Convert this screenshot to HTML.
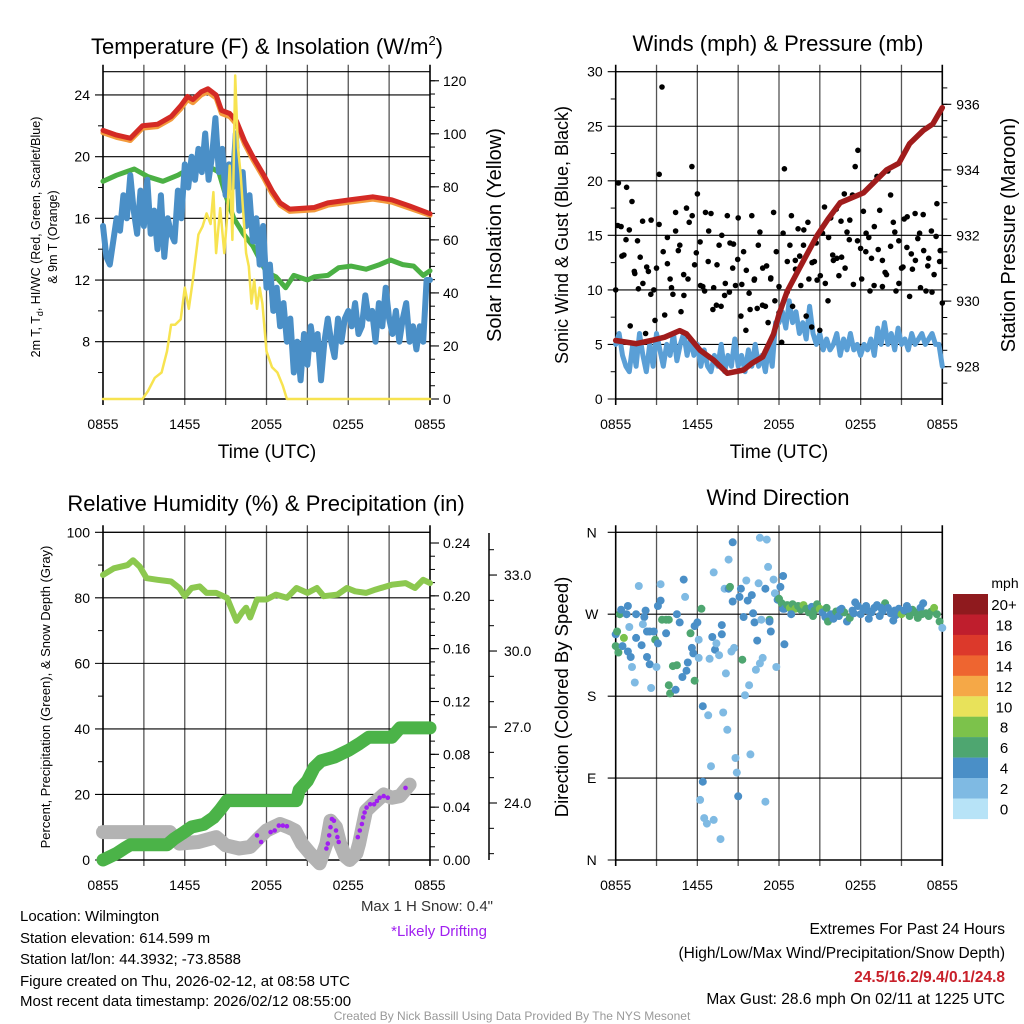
<!DOCTYPE html>
<html><head><meta charset="utf-8"><style>
html,body{margin:0;padding:0;background:#fff;}
svg{display:block;font-family:"Liberation Sans",Arial,sans-serif;}
</style></head><body>
<svg id="s" width="1024" height="1024" viewBox="0 0 1024 1024">
<g id="marks"></g>
<g id="texts" fill="#000">
<text x="267" y="54" font-size="22" text-anchor="middle">Temperature (F) &amp; Insolation (W/m<tspan font-size="13" dy="-9">2</tspan><tspan dy="9">)</tspan></text>
<text x="778" y="51" font-size="22" text-anchor="middle">Winds (mph) &amp; Pressure (mb)</text>
<text x="266" y="511" font-size="22" text-anchor="middle">Relative Humidity (%) &amp; Precipitation (in)</text>
<text x="778" y="505" font-size="22" text-anchor="middle">Wind Direction</text>
<text x="267" y="458" font-size="19" text-anchor="middle">Time (UTC)</text>
<text x="779" y="458" font-size="19" text-anchor="middle">Time (UTC)</text>
<text transform="translate(40,237) rotate(-90)" font-size="12.5" text-anchor="middle">2m T, T<tspan font-size="9" dy="3">d</tspan><tspan dy="-3">, HI/WC (Red, Green, Scarlet/Blue)</tspan></text>
<text transform="translate(57,237) rotate(-90)" font-size="12.5" text-anchor="middle">&amp; 9m T (Orange)</text>
<text transform="translate(501,235) rotate(-90)" font-size="20" text-anchor="middle">Solar Insolation (Yellow)</text>
<text transform="translate(568,235) rotate(-90)" font-size="18" text-anchor="middle">Sonic Wind &amp; Gust (Blue, Black)</text>
<text transform="translate(1015,235) rotate(-90)" font-size="20" text-anchor="middle">Station Pressure (Maroon)</text>
<text transform="translate(50,697) rotate(-90)" font-size="13" text-anchor="middle">Percent, Precipitation (Green), &amp; Snow Depth (Gray)</text>
<text transform="translate(568,697) rotate(-90)" font-size="18.5" text-anchor="middle">Direction (Colored By Speed)</text>
<text x="1005" y="588" font-size="14" text-anchor="middle">mph</text>
<text x="493" y="911" font-size="15" text-anchor="end" fill="#333">Max 1 H Snow: 0.4"</text>
<text x="487" y="936" font-size="15" text-anchor="end" fill="#a020f0">*Likely Drifting</text>
<g font-size="15">
<text x="20" y="921">Location: Wilmington</text>
<text x="20" y="943">Station elevation: 614.599 m</text>
<text x="20" y="964">Station lat/lon: 44.3932; -73.8588</text>
<text x="20" y="986">Figure created on Thu, 2026-02-12, at 08:58 UTC</text>
<text x="20" y="1006">Most recent data timestamp: 2026/02/12 08:55:00</text>
</g>
<g font-size="15.5" text-anchor="end">
<text x="1005" y="934">Extremes For Past 24 Hours</text>
<text x="1005" y="958">(High/Low/Max Wind/Precipitation/Snow Depth)</text>
<text x="1005" y="982" fill="#c8202a" font-weight="bold">24.5/16.2/9.4/0.1/24.8</text>
<text x="1005" y="1004">Max Gust: 28.6 mph On 02/11 at 1225 UTC</text>
</g>
<text x="512" y="1020" font-size="12" text-anchor="middle" fill="#999">Created By Nick Bassill Using Data Provided By The NYS Mesonet</text>
</g>
</svg>
<script>
// ---------- data ----------
const xTickLabels = ["0855","1455","2055","0255","0855"];
const redTemp = [[0,21.7],[1,21.4],[2,21.2],[2.9,22.0],[4,22.1],[5,22.6],[5.7,23.3],[6.2,23.9],[6.6,23.7],[7.2,24.2],[7.7,24.4],[8.3,24.0],[8.7,23.0],[9.3,22.8],[9.8,22.3],[10.4,21.0],[11,20.0],[11.8,18.8],[12.4,17.8],[13,17.0],[13.7,16.6],[15.5,16.7],[16.5,17.0],[18.1,17.2],[19.8,17.4],[21.2,17.2],[22.5,16.8],[24,16.3]];
const orangeTemp = [[0,21.55],[1,21.25],[2,21.05],[2.9,21.85],[4,21.95],[5,22.45],[5.7,23.1],[6.2,23.7],[6.6,23.5],[7.2,24.0],[7.7,24.2],[8.3,23.8],[8.7,22.8],[9.3,22.6],[9.8,22.1],[10.4,20.8],[11,19.8],[11.8,18.6],[12.4,17.6],[13,16.85],[13.7,16.45],[15.5,16.55],[16.5,16.85],[18.1,17.05],[19.8,17.25],[21.2,17.05],[22.5,16.65],[24,16.2]];
const dewPoint = [[0,18.4],[1,18.8],[2.3,19.2],[3.3,18.7],[4.4,18.4],[5.5,18.8],[6.5,19.3],[7.5,19.5],[8.5,19.0],[9.0,17.5],[9.6,16.0],[10.3,15.0],[11,14.2],[12,12.5],[12.7,12.2],[13.4,11.5],[14,12.3],[15,12.0],[15.5,12.2],[16.5,12.3],[17.3,12.8],[18.2,12.9],[19.3,12.7],[20.3,13.0],[21.1,13.3],[22,13.0],[22.8,12.9],[23.5,12.3],[24,12.6]];
const windChill = [15.5,13.5,13.0,14.5,16.0,15.2,17.5,16.0,18.8,16.5,15.0,17.8,15.5,18.5,15.0,16.5,14.0,17.5,13.5,16.0,15.0,14.5,17.8,16.0,
19.5,18.0,20.0,18.5,20.5,19.0,21.5,18.5,20.0,22.5,19.0,20.5,17.5,19.5,18.0,21.5,16.5,19.0,15.5,17.5,14.5,16.0,13.0,15.5,
11.5,13.0,10.0,11.5,9.0,10.5,8.0,9.5,6.0,8.0,5.5,8.5,6.5,9.0,7.5,8.5,5.5,8.0,9.5,8.0,7.0,9.5,8.0,9.5,
10.0,9.0,10.5,8.5,9.0,11.0,9.5,10.0,8.0,10.5,9.0,11.5,9.5,8.5,10.0,8.0,9.5,10.5,8.0,9.0,7.5,9.0,8.0,12.0,12.0];
const solar = [[0,0],[2.9,0],[3.3,3],[3.8,8],[4.3,10],[4.7,18],[5.0,28],[5.3,28],[5.7,30],[6.0,42],[6.3,34],[6.6,45],[7.0,62],[7.3,65],[7.6,70],[7.9,66],[8.1,78],[8.3,55],[8.6,72],[8.9,55],[9.1,68],[9.3,88],[9.5,60],[9.7,122],[9.9,95],[10.1,85],[10.3,70],[10.5,55],[10.7,50],[10.9,36],[11.1,45],[11.3,34],[11.5,42],[11.7,36],[12.0,18],[12.4,12],[12.8,10],[13.2,5],[13.5,0],[24,0]];
const pressure = [[0,928.8],[1.5,928.7],[2.6,928.8],[3.6,928.9],[4.7,929.1],[5.2,929.0],[6.2,928.5],[7.2,928.2],[8.2,927.8],[9.4,927.9],[10,928.1],[10.8,928.3],[11.6,929.0],[12.0,929.6],[12.6,930.3],[13.5,931.0],[14.8,932.0],[15.6,932.5],[16.5,933.0],[18.2,933.3],[19.9,934.0],[20.8,934.2],[21.6,934.8],[22.6,935.2],[23.3,935.4],[24,935.9]];
const windSpeed = [5,6,4,3,2.5,5,3,6,4,2.5,5,3,6,4.5,3,5,4,6,3.5,5,6,4,5.5,4,
5,3,4.5,3,2.5,4,3,5,2.5,4,3,5.5,3,4,2.5,4.5,3,5,3,4,2.5,5,3,7,
7,8,6.5,9,7,8,6,7,5.5,8.5,6,5,6,4.5,5.5,4.5,5,6,4,5.5,4.5,6,4.5,5,
4,5,4.5,5.5,4,6.5,5,7,5,6,4.5,6.5,5,5.5,4.5,6,5,5.5,6,5,5.5,6,5,5,3];
const gusts = [10,19.8,15.8,13.2,19.4,15.5,18.1,11.5,14.5,13,10.6,
6,11.7,16.4,10,12,20.6,28.6,7.7,14.8,11,
9.6,15.4,13.6,8,11.4,17.5,16.2,21.3,12.3,18.8,
14.4,10.3,17.1,12.6,17,10.2,8.6,14.1,15,9.5,
16.8,14.3,12,10.4,16.6,7.6,13.5,11.8,9.7,16.8,
11,8.3,15.3,12,8.5,7,11.1,17.1,13.5,10.3,
5.2,21.1,9.8,14.1,8.5,12.7,15.6,10.4,14.1,7.6,
11,6.6,12.6,10.9,6.3,15.2,10.6,9,16.6,12.7,
17.4,11.3,13,18.8,15.3,16.4,18.7,21.3,22.8,13.8,
17.2,15.2,14.8,12.9,15.8,20.4,17.3,12.7,11.6,20.9,
18.7,16.2,9.9,14.5,12,16.5,13.9,9.4,11.9,17,
14.7,10.2,16.9,9.9,12.9,15.4,11.4,17.9,12.6,8.8];
const gusts2 = [15.9,13.1,14.6,6.7,11.7,10.1,16.3,12.1,9.6,7.2,16,13.5,12.4,10.2,17.1,14.1,9.5,11,16.8,13.4,10.4,9.9,15.4,8.2,12.3,8.5,10.6,9.8,14.2,12.8,10.5,6.3,8.2,10.9,14.1,8.6,12.2,11,9,7.9,15.2,12.6,16.8,11.9,13.1,15.5,16.2,12.5,14.3,11.3,17.6,14.8,13.2,12.9,16.3,12,14.6,10.5,14.5,11,13.5,9.9,10.4,13.7,10.3,11.4,14,15.3,10.6,12.1,16.7,13.3,12.7,15.2,13.6,12.2,9.8,14.9,13.6];
const rh = [[0,87],[0.8,89],[1.8,90],[2.2,91.5],[2.7,89.5],[3.2,86],[4,85.5],[5,85],[5.6,83],[6,80.5],[6.5,83],[7.1,83.5],[7.6,81.5],[8.3,81.5],[9.1,80],[9.5,76],[9.8,73],[10.2,75.5],[10.5,77],[10.8,74],[11.3,79.5],[12,79.5],[12.7,81],[13.5,80],[14.2,83],[15,81.5],[15.7,83],[16.2,80.5],[17.2,81],[17.9,83],[18.5,82],[19.3,81.5],[20,82.5],[21.2,84],[22.2,84.5],[22.9,83],[23.5,85.5],[24,84.5]];
const precip = [[0,0],[0.4,0.002],[1,0.005],[1.6,0.009],[2,0.0115],[4.7,0.0115],[5.2,0.016],[5.8,0.02],[6.5,0.025],[7.4,0.027],[8.1,0.032],[8.6,0.038],[9.1,0.045],[14.2,0.045],[14.4,0.053],[15,0.06],[15.5,0.07],[16,0.075],[17,0.078],[18,0.083],[18.8,0.088],[19.5,0.093],[21.2,0.093],[21.8,0.1],[24,0.1]];
const snowDepth = [[0,8.5],[2,8.5],[4.9,8.5],[5.6,5],[7,5.5],[8.3,7],[9,4.5],[10,3.5],[10.8,4],[11.5,7],[12,9],[13,11],[13.6,10],[14.1,9],[14.6,5],[15.2,2],[15.9,-1],[16.4,5],[16.7,12],[17.1,10],[17.4,5],[17.8,1],[18.1,0],[18.6,2],[18.8,5],[19.3,15],[19.8,17],[20.6,20],[21.2,19],[21.8,19.5],[22.5,23]];
const drifting = [[11.3,7.5],[11.6,5.5],[12.3,8.5],[12.6,9],[12.9,10.5],[13.2,10.5],[13.5,10.3],[16.4,3.5],[16.5,5],[16.6,7.5],[16.7,10],[16.8,12.5],[16.95,12],[17.1,9],[17.2,7],[17.3,5.5],[18.7,7],[18.85,9],[19.0,11],[19.1,13],[19.2,14.5],[19.35,16],[19.6,17],[19.9,17],[20.1,18],[20.3,19],[20.6,19.5],[20.9,19],[22.2,22]];
// wind direction points: [hour, degrees, mph]
const wdScatter = [[0,248,5],[0.1,251,7],[0,235,7],[0.3,270,7],[0.4,275,5],[0.6,244,9],[0.8,270,5],[0.9,279,5],[1.0,256,3],[0.2,228,7],[0.5,235,5],[0.9,229,5],[1.1,223,5],[1.2,212,3],[1.4,195,3],[1.5,244,5],[1.5,270,5],[1.7,301,3],[1.9,236,5],[2.1,267,5],[2.0,259,3],[2.2,274,5],[2.3,251,5],[2.3,223,5],[2.5,215,5],[2.5,251,5],[2.6,189,3],[2.8,251,5],[2.9,242,7],[3.0,212,3],[3.1,238,5],[3.1,279,5],[3.3,303,3],[3.3,285,5],[3.4,264,7],[3.7,249,5],[3.7,264,7],[3.9,264,7],[3.9,192,7],[4.0,183,7],[4.2,213,7],[4.4,187,5],[4.5,270,5],[4.5,214,7],[4.7,261,5],[4.9,201,5],[5.0,308,5],[5.1,289,3],[5.2,208,5],[5.3,217,5],[5.5,249,7],[5.6,233,5],[5.7,227,5],[5.8,197,7],[5.8,257,5],[6.0,261,5],[6.1,222,3],[6.1,242,3],[6.3,276,7],[6.4,86,5],[6.4,169,5],[6.2,66,3],[6.5,46,3],[6.7,40,3],[6.8,159,3],[6.9,221,3],[7.1,245,5],[7.0,103,3],[7.2,316,3],[7.2,44,3],[7.3,231,5],[7.4,238,3],[7.6,225,3],[7.7,23,3],[7.8,248,5],[7.8,258,5],[7.9,162,3],[8.0,298,3],[8.1,205,3],[8.2,143,3],[8.3,298,5],[8.3,330,3],[8.4,300,7],[8.5,229,3],[8.6,349,5],[8.6,284,5],[8.7,233,3],[8.8,112,3],[8.9,96,3],[9.0,70,5],[9.1,289,5],[9.2,298,5],[9.3,220,7],[9.4,267,5],[9.5,181,3],[9.6,307,3],[9.7,285,5],[9.8,192,3],[9.9,116,3],[10.0,291,5],[10.1,271,5],[10.2,261,5],[10.3,209,3],[10.4,241,5],[10.5,304,3],[10.6,354,3],[10.6,216,3],[10.7,264,3],[10.8,222,3],[11.0,298,5],[11.0,64,3],[11.1,352,3],[11.2,322,3],[11.3,264,7],[11.3,262,5],[11.4,251,5],[11.6,308,3],[11.7,293,3],[11.8,212,3],[11.9,286,5],[12.0,287,7],[12.1,300,5],[12.3,312,5],[12.4,237,5],[12.3,276,5]];
const wdCluster = [[12.2,282,6.5],[12.4,276,5],[12.6,280,7],[12.8,277,8.5],[13.0,281,7],[13.2,276,8.5],[13.4,279,6.5],[13.6,275,7],[13.8,280,8.5],[14.0,276,6.5],[14.2,272,7],[14.4,278,5],[14.6,274,6.5],[14.8,281,7],[15.0,276,8.5],[15.2,272,5],[15.4,267,5],[15.6,262,7],[15.8,270,5],[16.0,265,5],[16.2,273,7],[16.4,268,5],[16.6,276,5],[16.8,272,6.5],[17.0,262,5],[17.2,266,7],[17.4,274,5],[17.6,283,5],[17.8,279,5],[18.0,270,5],[18.2,276,5],[18.4,279,5],[18.6,265,5],[18.8,272,5],[19.0,277,5],[19.2,280,5],[19.4,268,5],[19.6,273,5],[19.8,282,6.5],[20.0,277,5],[20.2,271,5],[20.4,263,5],[20.6,269,5],[20.8,276,5],[21.0,270,8.5],[21.2,274,5],[21.4,279,5],[21.6,268,6.5],[21.8,275,6.5],[22.0,272,7],[22.2,266,7],[22.4,277,5],[22.6,282,5],[22.8,271,6.5],[23.0,268,7],[23.2,273,6.5],[23.4,277,8.5],[23.6,270,7],[23.8,262,7],[24.0,255,3],[12.9,270,5],[14.5,268,7],[16.5,275,5],[18.5,274,5],[19.5,277,5],[20.5,274,5],[21.5,276,5],[22.5,270,6.5],[17.5,271,5],[15.5,277,7]];
const cbLabels = ["20+","18","16","14","12","10","8","6","4","2","0"];
const cbColors = ["#8f1a1e","#bf1e2d","#dc392b","#ee6530","#f5a847","#e8e25a","#7cc24b","#4ea670","#4a8fc7","#7fbae3","#b7e3f7"];

// ---------- scales ----------
const NS='http://www.w3.org/2000/svg';
const G=document.getElementById('marks');
const P1={x0:103,x1:430,y0:71.7,y1:399}, P2={x0:615.7,x1:942.3,y0:71.7,y1:399};
const P3={x0:103,x1:430,y0:532.3,y1:860}, P4={x0:615.7,x1:942.3,y0:532.3,y1:860};
const tx=(P,t)=>P.x0+t/24*(P.x1-P.x0);
const yT=v=>341.7-(v-8)*15.42;
const ySol=v=>399-v*2.652;
const yW=v=>399-v*10.91;
const yP=v=>366.7-(v-928)*32.8;
const yRH=v=>860-v*3.277;
const yPr=v=>860-v*1320.8;
const ySn=v=>803-(v-24)*25.33;
const yWD=v=>860-v/360*327.7;
function speedColor(s){const i=Math.min(10,Math.floor(s/2));return cbColors[10-i];}

function el(tag,a){const e=document.createElementNS(NS,tag);for(const k in a)e.setAttribute(k,a[k]);G.appendChild(e);return e;}
function line(x1,y1,x2,y2,c,w){const e=el('line',{x1,y1,x2,y2,stroke:c,'stroke-width':w});

return e;}
function txt(x,y,s,anchor,size){const e=document.createElementNS(NS,'text');e.setAttribute('x',x);e.setAttribute('y',y);e.setAttribute('text-anchor',anchor);e.setAttribute('font-size',size);e.textContent=s;document.getElementById('texts').appendChild(e);

return e;}
function path(pts,fx,fy,c,w,name){const d=pts.map((p,i)=>(i?'L':'M')+fx(p[0]).toFixed(1)+','+fy(p[1]).toFixed(1)).join('');
const e=el('path',{d,fill:'none',stroke:c,'stroke-width':w,'stroke-linejoin':'round','stroke-linecap':'round'});

return e;}
function dot(x,y,r,c,name){const e=el('circle',{cx:x.toFixed(1),cy:y.toFixed(1),r,fill:c});

return e;}
const series=arr=>arr.map((v,i)=>[i*24/(arr.length-1),v]);

// ---------- grids / axes ----------
function frame(P,hVals,fy,leftLabels,fmt){
  for(let k=0;k<=8;k++){const x=tx(P,k*3);line(x,P.y0-7,x,P.y1+6,k==0||k==8?'#000':'#555',k==0||k==8?1.6:1.3);}
  hVals.forEach(v=>{const y=fy(v);line(P.x0-8,y,P.x1,y,'#000',1.1);if(leftLabels)txt(P.x0-13,y+5,fmt(v),'end',14);});
  line(P.x0,P.y0,P.x1,P.y0,'#000',1.2);line(P.x0,P.y1,P.x1,P.y1,'#000',1.6);
  xTickLabels.forEach((s,i)=>txt(tx(P,i*6),P.y1+30,s,'middle',14));
}
function minor(P,vals,fy,side,len){vals.forEach(v=>{const y=fy(v);if(side=='l')line(P.x0-len,y,P.x0,y,'#000',1);else line(P.x1,y,P.x1+len,y,'#000',1);});}
const rng=(a,b,s)=>{const r=[];for(let v=a;v<=b+1e-9;v+=s)r.push(+v.toFixed(4));return r;};

// Panel 1
frame(P1,[8,12,16,20,24],yT,true,v=>v);
minor(P1,[6,10,14,18,22],yT,'l',5);
rng(0,120,20).forEach(v=>{line(P1.x1,ySol(v),P1.x1+9,ySol(v),'#000',1.1);txt(P1.x1+13,ySol(v)+5,v,'start',14);});
minor(P1,rng(0,120,5),ySol,'r',5);
// Panel 2
frame(P2,[0,5,10,15,20,25,30],yW,true,v=>v);
minor(P2,rng(2.5,27.5,5),yW,'l',5);
[928,930,932,934,936].forEach(v=>{line(P2.x1,yP(v),P2.x1+9,yP(v),'#000',1.1);txt(P2.x1+14,yP(v)+5,v,'start',14);});
minor(P2,rng(927.5,936.5,0.5),yP,'r',5);
// Panel 3
frame(P3,[0,20,40,60,80,100],yRH,true,v=>v);
minor(P3,[10,30,50,70,90],yRH,'l',5);
rng(0,0.24,0.04).forEach(v=>{line(P3.x1,yPr(v),P3.x1+9,yPr(v),'#000',1.1);txt(P3.x1+13,yPr(v)+5,v.toFixed(2),'start',14);});
minor(P3,rng(0.01,0.24,0.01),yPr,'r',5);
line(489,533,489,860,'#000',1.5);
[24,27,30,33].forEach(v=>{line(489,ySn(v),497,ySn(v),'#000',1.1);txt(504,ySn(v)+5,v.toFixed(1),'start',14);});
rng(22,34,1).forEach(v=>line(489,ySn(v),494,ySn(v),'#000',1));
// Panel 4
frame(P4,[0,90,180,270,360],yWD,false);
["N","E","S","W","N"].forEach((s,i)=>txt(P4.x0-24,yWD(i*90)+5,s,'middle',14));

// ---------- Panel 1 series ----------
path(orangeTemp,t=>tx(P1,t),yT,'#f39a3c',5,'orange-9m-temp-line');
path(redTemp,t=>tx(P1,t),yT,'#d42a25',5,'red-2m-temp-line');
path(dewPoint,t=>tx(P1,t),yT,'#4bb044',5,'green-dewpoint-line');
path(series(windChill),t=>tx(P1,t),yT,'#4a8fc7',6,'blue-windchill-line');
path(solar,t=>tx(P1,t),ySol,'#f7e350',2.5,'yellow-solar-line');
// ---------- Panel 2 series ----------
path(series(windSpeed),t=>tx(P2,t),yW,'#5a9fd6',5,'blue-wind-speed-line');
series(gusts).forEach(p=>dot(tx(P2,p[0]),yW(p[1]),2.8,'#000','gust-point'));
gusts2.forEach((v,i)=>dot(tx(P2,(i+0.5)*24/gusts2.length),yW(v),2.8,'#000','gust-point'));
path(pressure,t=>tx(P2,t),yP,'#a01c1c',5.5,'maroon-pressure-line');
// ---------- Panel 3 series ----------
path(rh,t=>tx(P3,t),yRH,'#8cc84f',6,'rh-line');
path(snowDepth,t=>tx(P3,t),yRH,'#b3b3b3',14,'gray-snow-depth-line');
path(precip,t=>tx(P3,t),yPr,'#4bb348',13,'green-precip-line');
drifting.forEach(p=>dot(tx(P3,p[0]),yRH(p[1]),2.3,'#a020f0','drifting-point'));
// ---------- Panel 4 series ----------
wdScatter.concat(wdCluster).forEach(p=>dot(tx(P4,p[0]),yWD(p[1]),4,speedColor(p[2]),'wind-direction-point'));
// colorbar
cbColors.forEach((c,i)=>{const y=594+i*20.45;const r=el('rect',{x:953,y:y.toFixed(1),width:35,height:20.6,fill:c});


txt(1004,y+16,cbLabels[i],'middle',15);});
</script>
</body></html>
